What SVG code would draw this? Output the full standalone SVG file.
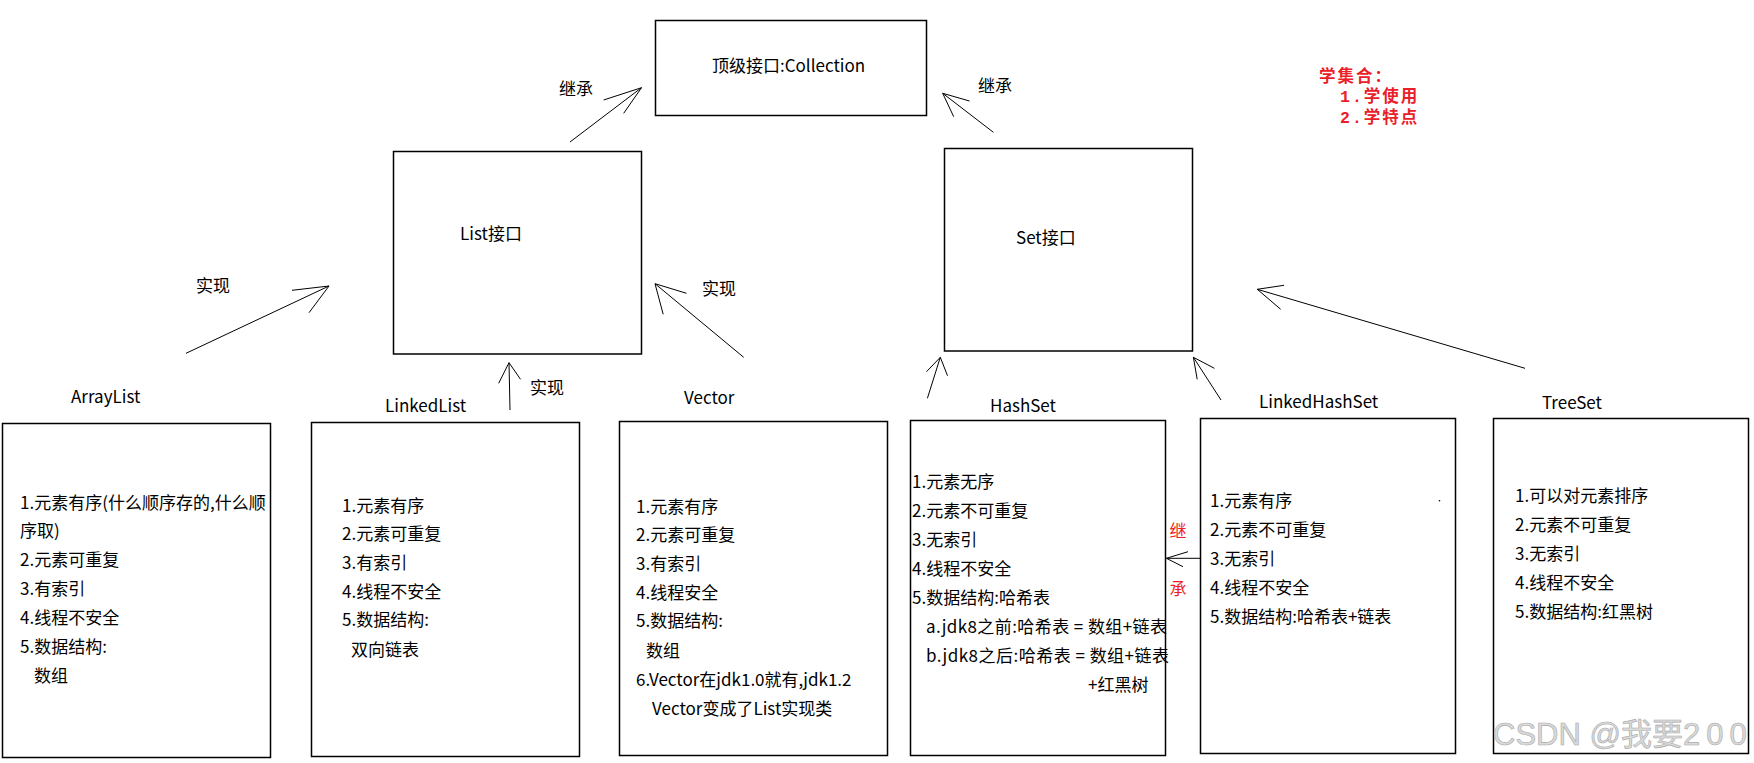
<svg xmlns="http://www.w3.org/2000/svg" width="1754" height="763" viewBox="0 0 1754 763">
<style>
  text { font-family: "Noto Sans CJK SC", "Liberation Sans", sans-serif; font-size: 17px; fill: #000; }
  .box { fill: #fff; stroke: #000; stroke-width: 1.5; }
  .conn { fill: none; stroke: #000; stroke-width: 1; }
  .red { fill: #f01e24; }
  .note { font-family: "Liberation Mono", "Noto Sans CJK SC", monospace; font-size: 16.5px; font-weight: bold; letter-spacing: 2px; fill: #ea2028; }
  .wm { font-family: "Liberation Sans", "Noto Sans CJK SC", sans-serif; font-size: 31px; fill: #dadada; stroke: #a9a9a9; stroke-width: 0.6; }
</style>
<rect width="1754" height="763" fill="#fff"/>

<g id="connectors">
  <path class="conn" d="M570,142 L641.5,87.7 M603.6,100 L641.5,87.7 L623.7,113.3"/>
  <path class="conn" d="M993.4,132.3 L942.7,93.3 M969.5,101 L942.7,93.3 L953.7,116.7"/>
  <path class="conn" d="M186,353.3 L329,286 M292,290.3 L329,286 L309,312.7"/>
  <path class="conn" d="M510,410 L509,362.7 M498.7,383.3 L509,362.7 L520.5,379.3"/>
  <path class="conn" d="M743.7,357.3 L655,283.7 M686.5,293.3 L655,283.7 L663.2,314.3"/>
  <path class="conn" d="M927.4,398.3 L940.3,357.3 M926.5,371.7 L940.3,357.3 L947.5,375.7"/>
  <path class="conn" d="M1221,400 L1193.4,357.3 M1214.4,368.3 L1193.4,357.3 L1197.2,379.3"/>
  <path class="conn" d="M1525,368.3 L1257.3,289.3 M1284,285.3 L1257.3,289.3 L1280.7,309.3"/>
  <path class="conn" d="M1200.5,558.3 L1166.4,558.3 M1188,551.7 L1166.4,558.3 L1183,566.7"/>
  <text x="559" y="95">继承</text>
  <text x="978" y="92">继承</text>
  <text x="196" y="292">实现</text>
  <text x="530" y="394">实现</text>
  <text x="702" y="295">实现</text>
  <text class="red" x="1169.5" y="537">继</text>
  <text class="red" x="1169.5" y="595">承</text>
</g>

<g id="collection">
  <rect class="box" x="655.5" y="20.5" width="271" height="95"/>
  <text x="712" y="72">顶级接口:Collection</text>
</g>

<g id="list">
  <rect class="box" x="393.5" y="151.5" width="248" height="202.5"/>
  <text x="460" y="239.5">List接口</text>
</g>

<g id="set">
  <rect class="box" x="944.5" y="148.5" width="248" height="202.5"/>
  <text x="1016" y="244">Set接口</text>
</g>

<g id="arraylist">
  <text x="71" y="403">ArrayList</text>
  <rect class="box" x="2.5" y="423.5" width="268" height="334"/>
  <text x="20" y="509">1.元素有序(什么顺序存的,什么顺</text>
  <text x="20" y="537">序取)</text>
  <text x="20" y="566">2.元素可重复</text>
  <text x="20" y="595">3.有索引</text>
  <text x="20" y="624">4.线程不安全</text>
  <text x="20" y="653">5.数据结构:</text>
  <text x="34" y="682">数组</text>
</g>

<g id="linkedlist">
  <text x="385" y="412">LinkedList</text>
  <rect class="box" x="311.5" y="422.5" width="268" height="334"/>
  <text x="342" y="512">1.元素有序</text>
  <text x="342" y="540">2.元素可重复</text>
  <text x="342" y="569">3.有索引</text>
  <text x="342" y="598">4.线程不安全</text>
  <text x="342" y="626">5.数据结构:</text>
  <text x="351" y="656">双向链表</text>
</g>

<g id="vector">
  <text x="684" y="404">Vector</text>
  <rect class="box" x="619.5" y="421.5" width="268" height="334"/>
  <text x="636" y="513">1.元素有序</text>
  <text x="636" y="541">2.元素可重复</text>
  <text x="636" y="570">3.有索引</text>
  <text x="636" y="599">4.线程安全</text>
  <text x="636" y="627">5.数据结构:</text>
  <text x="646" y="657">数组</text>
  <text x="636" y="686">6.Vector在jdk1.0就有,jdk1.2</text>
  <text x="652" y="715">Vector变成了List实现类</text>
</g>

<g id="hashset">
  <text x="990" y="412">HashSet</text>
  <rect class="box" x="910.5" y="420.5" width="255" height="335"/>
  <text x="912" y="488">1.元素无序</text>
  <text x="912" y="517">2.元素不可重复</text>
  <text x="912" y="546">3.无索引</text>
  <text x="912" y="575">4.线程不安全</text>
  <text x="912" y="604">5.数据结构:哈希表</text>
  <text x="926" y="633" textLength="241" lengthAdjust="spacing">a.jdk8之前:哈希表 = 数组+链表</text>
  <text x="926" y="662" textLength="243" lengthAdjust="spacing">b.jdk8之后:哈希表 = 数组+链表</text>
  <text x="1088" y="691">+红黑树</text>
</g>

<g id="linkedhashset">
  <text x="1259" y="408">LinkedHashSet</text>
  <rect class="box" x="1200.5" y="418.5" width="255" height="335"/>
  <text x="1210" y="507">1.元素有序</text>
  <text x="1210" y="536">2.元素不可重复</text>
  <text x="1210" y="565">3.无索引</text>
  <text x="1210" y="594">4.线程不安全</text>
  <text x="1210" y="623">5.数据结构:哈希表+链表</text>
  <circle cx="1439.5" cy="500.7" r="0.8" fill="#000"/>
</g>

<g id="treeset">
  <text x="1542" y="409">TreeSet</text>
  <rect class="box" x="1493.5" y="418.5" width="255" height="335"/>
  <text x="1515" y="502">1.可以对元素排序</text>
  <text x="1515" y="531">2.元素不可重复</text>
  <text x="1515" y="560">3.无索引</text>
  <text x="1515" y="589">4.线程不安全</text>
  <text x="1515" y="618">5.数据结构:红黑树</text>
</g>

<g id="note">
  <text class="note" x="1319" y="82">学集合：</text>
  <text class="note" x="1340" y="102">1.学使用</text>
  <text class="note" x="1340" y="123">2.学特点</text>
</g>

<text class="wm" x="1493" y="745">CSDN @我要<tspan letter-spacing="6">200</tspan></text>
</svg>
